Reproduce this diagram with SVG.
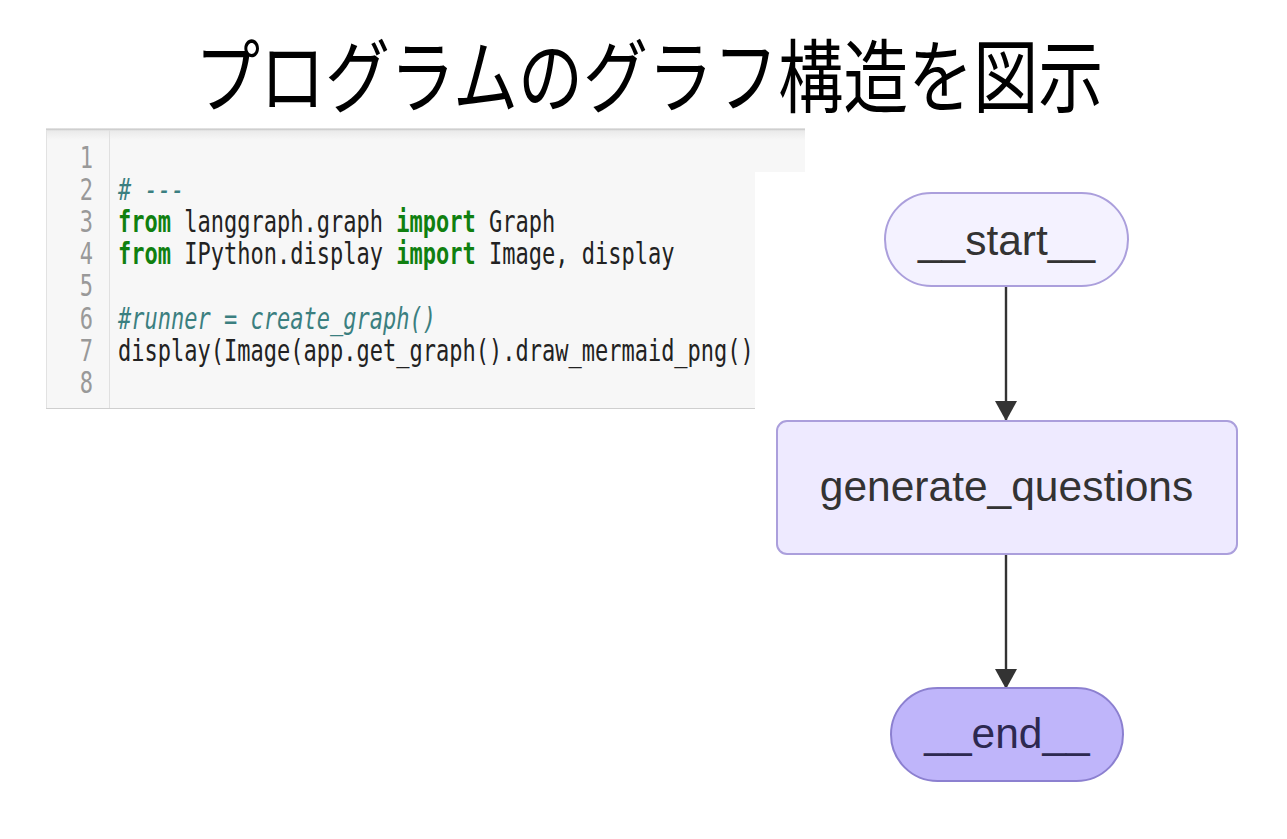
<svg xmlns="http://www.w3.org/2000/svg" width="1287" height="839" viewBox="0 0 1287 839">
<defs>
<style>
.title{font-family:"Noto Sans CJK JP","Noto Sans CJK SC",sans-serif;font-size:72px;font-weight:400;fill:#000}
.code{font-family:"DejaVu Sans Mono","Liberation Mono",monospace;font-size:31px;fill:#222}
.ln{font-family:"DejaVu Sans Mono","Liberation Mono",monospace;font-size:31px;fill:#999;text-anchor:end}
.kw{fill:#108010;font-weight:bold}
.cm{fill:#3b7f80;font-style:italic}
.nlabel{font-family:"Liberation Sans",Arial,sans-serif;font-size:42.5px;text-anchor:middle;fill:#333}
.edge{stroke:#333;stroke-width:2.4;fill:none}
</style>
<marker id="arrow" viewBox="0 0 20 22" refX="20" refY="11" markerWidth="20" markerHeight="22" markerUnits="userSpaceOnUse" orient="auto">
<path d="M0,0 L20,11 L0,22 z" fill="#333"/>
</marker>
<linearGradient id="shadow" x1="0" y1="0" x2="0" y2="1">
<stop offset="0" stop-color="#e6e6e6"/>
<stop offset="1" stop-color="#f7f7f7"/>
</linearGradient>
</defs>
<rect x="0" y="0" width="1287" height="839" fill="#fff"/>
<g id="title" transform="translate(195,106) scale(0.903,1.11)">
<text class="title" x="0" y="0">プログラムのグラフ構造を図示</text>
</g>
<g id="code-panel">
<rect x="46" y="128" width="759" height="281" fill="#f7f7f7"/>
<rect x="46" y="128" width="759" height="12" fill="url(#shadow)"/>
<line x1="46" y1="129.5" x2="805" y2="129.5" stroke="#cfcfcf" stroke-width="1.5"/>
<line x1="46.5" y1="130" x2="46.5" y2="409" stroke="#e2e2e2" stroke-width="1"/>
<line x1="46" y1="408.5" x2="805" y2="408.5" stroke="#cfcfcf" stroke-width="1"/>
<line x1="109.5" y1="130" x2="109.5" y2="408" stroke="#e0e0e0" stroke-width="1"/>
<g transform="scale(0.71,1)">
<text class="ln" x="131" y="168">1</text>
<text class="ln" x="131" y="200">2</text>
<text class="ln" x="131" y="232">3</text>
<text class="ln" x="131" y="264.5">4</text>
<text class="ln" x="131" y="296.5">5</text>
<text class="ln" x="131" y="329">6</text>
<text class="ln" x="131" y="361">7</text>
<text class="ln" x="131" y="393">8</text>
</g>
<g transform="translate(118,0) scale(0.71,1)">
<text class="code" x="0" y="200"><tspan class="cm"># ---</tspan></text>
<text class="code" x="0" y="232"><tspan class="kw">from</tspan> langgraph.graph <tspan class="kw">import</tspan> Graph</text>
<text class="code" x="0" y="264.5"><tspan class="kw">from</tspan> IPython.display <tspan class="kw">import</tspan> Image, display</text>
<text class="code" x="0" y="329"><tspan class="cm">#runner = create_graph()</tspan></text>
<text class="code" x="0" y="361">display(Image(app.get_graph().draw_mermaid_png()))</text>
</g>
</g>
<rect x="755" y="172" width="532" height="667" fill="#fff"/>
<g id="connectors">
<line class="edge" x1="1006" y1="287" x2="1006" y2="421" marker-end="url(#arrow)"/>
<line class="edge" x1="1006" y1="554" x2="1006" y2="689" marker-end="url(#arrow)"/>
</g>
<g id="node-start">
<rect x="885" y="193" width="243" height="93" rx="46.5" ry="46.5" fill="#f4f2ff" stroke="#ab9fdc" stroke-width="2"/>
<text class="nlabel" x="1006.5" y="255">__start__</text>
</g>
<g id="node-generate_questions">
<rect x="777" y="421" width="460" height="133" rx="10" ry="10" fill="#eeeaff" stroke="#ab9fdc" stroke-width="2"/>
<text class="nlabel" x="1006.5" y="501">generate_questions</text>
</g>
<g id="node-end">
<rect x="891" y="688" width="232" height="93" rx="46.5" ry="46.5" fill="#bfb5fa" stroke="#8c80d0" stroke-width="2"/>
<text class="nlabel" x="1007" y="748" style="fill:#2d2950">__end__</text>
</g>
</svg>
